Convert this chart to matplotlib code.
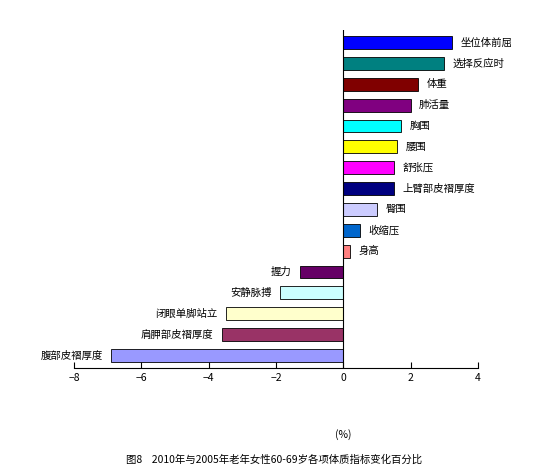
import matplotlib
matplotlib.use("Agg")
import matplotlib.pyplot as plt

plt.rcParams['font.family'] = ['Noto Sans CJK SC', 'DejaVu Sans']

categories = ["坐位体前屈","选择反应时","体重","肺活量","胸围","腰围","舒张压","上臂部皮褶厚度",
              "臀围","收缩压","身高","握力","安静脉搏","闭眼单脚站立","肩胛部皮褶厚度","腹部皮褶厚度"]
values = [3.24,3.0,2.23,2.0,1.72,1.6,1.51,1.51,1.0,0.5,0.2,-1.28,-1.87,-3.5,-3.6,-6.9]
colors = ["#0000FF","#008080","#800000","#800080","#00FFFF","#FFFF00","#FF00FF","#000080",
          "#CCCCFF","#0066CC","#FF8080","#660066","#CCFFFF","#FFFFCC","#993366","#9999FF"]
xticks = [-8,-6,-4,-2,0,2,4]

fig = plt.figure(figsize=(5.49,4.74), dpi=100)
ax = fig.add_axes([74/549, 1-368/474, 404/549, 338/474])
n = len(categories)
ys = list(range(n))[::-1]
ax.barh(ys, values, height=0.62, color=colors, edgecolor="black", linewidth=0.6)
for y, v, c in zip(ys, values, categories):
    if v >= 0:
        ax.text(v+0.25, y, c, va="center", ha="left", fontsize=7.5)
    else:
        ax.text(v-0.25, y, c, va="center", ha="right", fontsize=7.5)
ax.set_xlim(-8,4)
ax.set_ylim(-0.6, n-0.4)
ax.set_xticks(xticks)
ax.tick_params(axis='x', labelsize=7.5, direction='in', length=4)
ax.set_yticks([])
for s in ["top","right","left"]:
    ax.spines[s].set_visible(False)
ax.axvline(0, color="black", linewidth=0.8)
fig.text(343/549, 1-435/474, "(%)", ha="center", va="center", fontsize=7.5)
fig.text(0.5, 1-460/474, "图8    2010年与2005年老年女性60-69岁各项体质指标变化百分比",
         ha="center", va="center", fontsize=7.5)
fig.savefig("out.png", dpi=100)
